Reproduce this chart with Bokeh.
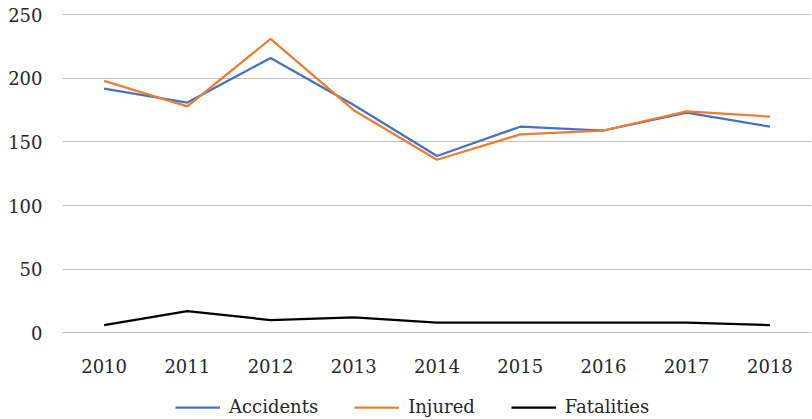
from bokeh.plotting import figure
from bokeh.models import Legend, LegendItem, FixedTicker
from bokeh.embed import file_html
from bokeh.resources import INLINE

years = ["2010", "2011", "2012", "2013", "2014", "2015", "2016", "2017", "2018"]
accidents = [192, 181, 216, 179, 139, 162, 159, 173, 162]
injured = [198, 178, 231, 175, 136, 156, 159, 174, 170]
fatalities = [6, 17, 10, 12, 8, 8, 8, 8, 6]
y_ticks = [0, 50, 100, 150, 200, 250]

FONT = "DejaVu Serif"
TXT = "#262626"

# frame runs to the bottom edge so the legend can sit inside it
p = figure(x_range=years, y_range=(-68.2, 251), width=812, height=419,
           output_backend="svg", toolbar_location=None,
           min_border_left=62, min_border_right=1, min_border_top=13,
           min_border_bottom=0)
p.outline_line_color = None
p.background_fill_color = "white"

r1 = p.line(years, accidents, line_color="#4472C4", line_width=2.25)
r2 = p.line(years, injured, line_color="#ED7D31", line_width=2.25)
r3 = p.line(years, fatalities, line_color="#000000", line_width=2.25)

p.xgrid.grid_line_color = None
p.ygrid.grid_line_color = "#BFBFBF"
p.ygrid.grid_line_width = 1
p.yaxis.ticker = FixedTicker(ticks=y_ticks)

for ax in (p.xaxis, p.yaxis):
    ax.axis_line_color = None
    ax.major_tick_line_color = None
    ax.minor_tick_line_color = None
    ax.major_tick_out = 0
    ax.major_tick_in = 0
    ax.major_label_text_font = FONT
    ax.major_label_text_font_size = "18px"
    ax.major_label_text_color = TXT
p.xaxis.fixed_location = 0
p.xaxis.major_label_standoff = 26
p.yaxis.major_label_standoff = 20

legend = Legend(items=[LegendItem(label="Accidents", renderers=[r1]),
                       LegendItem(label="Injured", renderers=[r2]),
                       LegendItem(label="Fatalities", renderers=[r3])],
                orientation="horizontal", location=(113, 2),
                glyph_width=45, glyph_height=20, label_standoff=9, spacing=36,
                padding=0, margin=0, border_line_color=None,
                background_fill_alpha=0,
                label_text_font=FONT, label_text_font_size="18px",
                label_text_color=TXT)
p.add_layout(legend, "center")

open("out.html", "w").write(file_html(p, INLINE))
